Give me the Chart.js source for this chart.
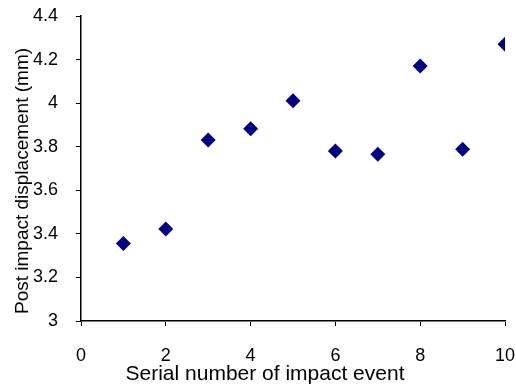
<!DOCTYPE html>
<html>
<head>
<meta charset="utf-8">
<script src="https://cdn.jsdelivr.net/npm/chart.js@4/dist/chart.umd.min.js"></script>
<style>
  html, body { margin: 0; padding: 0; background: #fff; }
  #wrap { width: 516px; height: 387px; }
</style>
</head>
<body>
<div id="wrap"><canvas id="impactChart" width="516" height="387"></canvas></div>
<script>
// Impact events and measured displacement
const eventNumbers = [1, 2, 3, 4, 5, 6, 7, 8, 9, 10];
const displacements = [3.356, 3.422, 3.831, 3.883, 4.011, 3.780, 3.765, 4.170, 3.788, 4.270];
const xTicks = [0, 2, 4, 6, 8, 10];
const yTicks = [3, 3.2, 3.4, 3.6, 3.8, 4, 4.2, 4.4];

const xTitle = 'Serial number of impact event';
const yTitle = 'Post impact displacement (mm)';

const FONT = 'Liberation Sans, Arial, sans-serif';

// Axis titles drawn by hand so they can sit where we want them
const axisTitles = {
    id: 'axisTitles',
    afterDraw(chart) {
        const c = chart.ctx;
        c.save();
        c.fillStyle = '#000';
        c.textAlign = 'center';
        c.textBaseline = 'middle';
        c.font = '21px ' + FONT;
        c.fillText(xTitle, 265, 374);
        c.font = '19px ' + FONT;
        c.translate(23, 181);
        c.rotate(-Math.PI / 2);
        c.fillText(yTitle, 0, 0);
        c.restore();
    }
};

const ctx = document.getElementById('impactChart').getContext('2d');
const impactChart = new Chart(ctx, {
    type: 'scatter',
    data: {
        datasets: [{
            data: eventNumbers.map((x, i) => ({ x: x, y: displacements[i] })),
            backgroundColor: '#000080',
            borderColor: '#000080',
            borderWidth: 0,
            pointStyle: 'rectRot',
            pointRadius: 7.5,
            pointHoverRadius: 7.5
        }]
    },
    options: {
        responsive: false,
        animation: false,
        layout: { padding: { top: 16, right: 11, left: 0, bottom: 0 } },
        plugins: {
            legend: { display: false },
            tooltip: { enabled: false }
        },
        scales: {
            x: {
                type: 'linear',
                min: 0,
                max: 10,
                afterBuildTicks: axis => { axis.ticks = xTicks.map(v => ({ value: v })); },
                afterFit: axis => {
                    axis.height = 66;
                    axis.paddingLeft = 0;
                    axis.paddingRight = 0;
                },
                border: { color: '#000', width: 1.5 },
                grid: { drawOnChartArea: false, tickLength: 5, color: '#000', tickWidth: 1 },
                ticks: {
                    color: '#000',
                    font: { family: FONT, size: 18 },
                    padding: 19,
                    maxRotation: 0
                }
            },
            y: {
                type: 'linear',
                min: 3,
                max: 4.4,
                afterBuildTicks: axis => { axis.ticks = yTicks.map(v => ({ value: v })); },
                afterFit: axis => {
                    axis.width = 81;
                    axis.paddingTop = 0;
                    axis.paddingBottom = 0;
                },
                border: { color: '#000', width: 1.5 },
                grid: { drawOnChartArea: false, tickLength: 5, color: '#000', tickWidth: 1 },
                ticks: {
                    color: '#000',
                    font: { family: FONT, size: 18 },
                    padding: 18,
                    callback: v => String(Math.round(v * 10) / 10)
                }
            }
        }
    },
    plugins: [axisTitles]
});
</script>
</body>
</html>
